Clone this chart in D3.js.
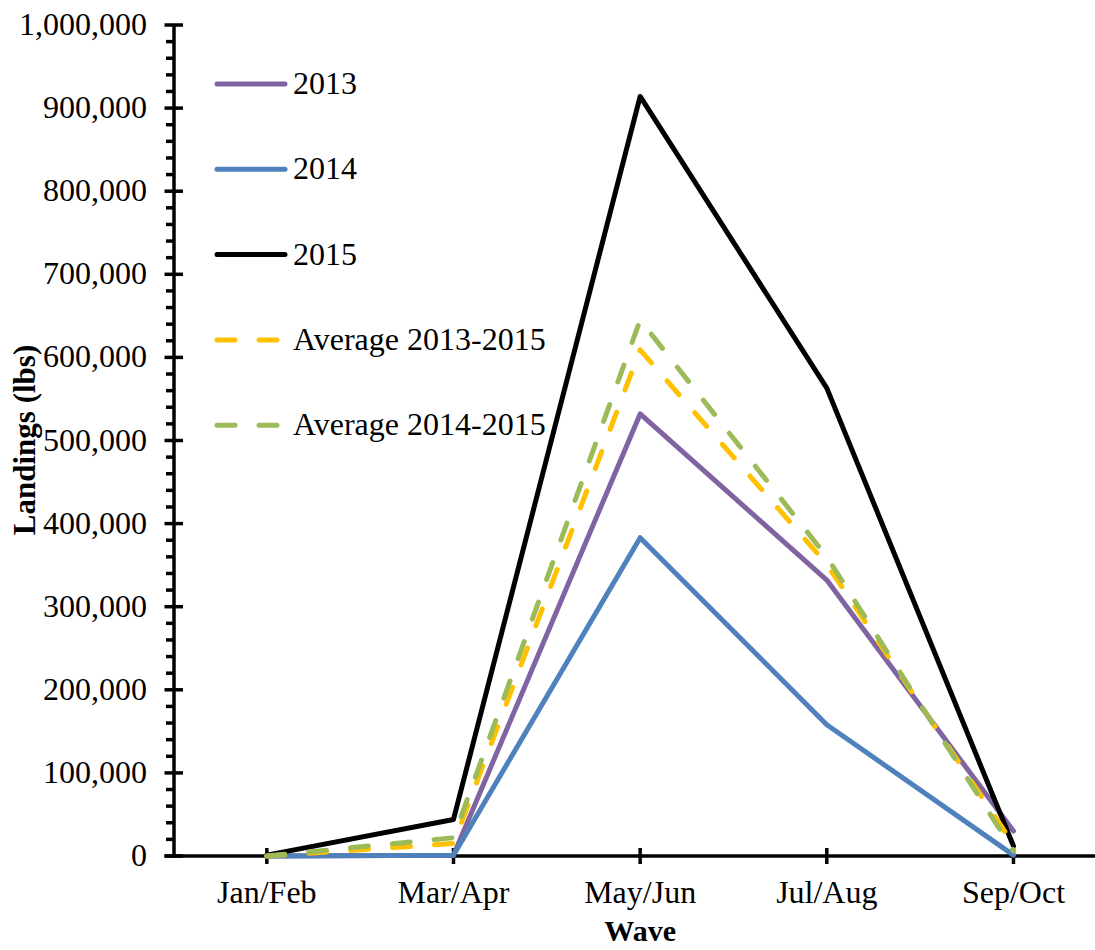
<!DOCTYPE html>
<html>
<head>
<meta charset="utf-8">
<script src="https://cdn.jsdelivr.net/npm/d3@7.9.0/dist/d3.min.js"></script>
<style>
  body { margin: 0; background: #fff; }
  svg { display: block; font-family: "Liberation Serif", "Times New Roman", serif; }
</style>
</head>
<body>
<svg id="chart" width="1095" height="950"></svg>
<script>
const waves = ["Jan/Feb", "Mar/Apr", "May/Jun", "Jul/Aug", "Sep/Oct"];

const landings2013 = [0, 1000, 532000, 332000, 30000];
const landings2014 = [0, 1000, 383000, 158000, 1000];
const landings2015 = [1000, 44000, 914000, 563000, 12000];
const avg2013to2015 = [0, 15000, 609000, 351000, 14000];
const avg2014to2015 = [0, 22000, 645000, 360000, 6000];

const seriesNames = ["2013", "2014", "2015", "Average 2013-2015", "Average 2014-2015"];
const seriesValues = [landings2013, landings2014, landings2015, avg2013to2015, avg2014to2015];
const seriesColors = ["#8064A2", "#4F81BD", "#000000", "#FFC000", "#9BBB59"];
const seriesDashed = [false, false, false, true, true];

const yTicks = d3.range(0, 1000001, 100000);

const svg = d3.select("#chart");

const x = d3.scalePoint()
    .domain(waves)
    .range([173.5, 1106.8])
    .padding(0.5);

const y = d3.scaleLinear()
    .domain([0, 1000000])
    .range([856, 25]);

// minor ticks on y axis
svg.append("g")
    .selectAll("line")
    .data(d3.range(0, 1000001, 20000).filter(v => v % 100000 !== 0))
    .join("line")
    .attr("x1", 166).attr("x2", 174)
    .attr("y1", d => y(d)).attr("y2", d => y(d))
    .attr("stroke", "#000").attr("stroke-width", 3.5);

// major y ticks
svg.append("g")
    .selectAll("line")
    .data(yTicks)
    .join("line")
    .attr("x1", 164.5).attr("x2", 183)
    .attr("y1", d => y(d)).attr("y2", d => y(d))
    .attr("stroke", "#000").attr("stroke-width", 3.5);

svg.append("g")
    .selectAll("text")
    .data(yTicks)
    .join("text")
    .attr("x", 147)
    .attr("y", d => y(d) + 10)
    .attr("text-anchor", "end")
    .attr("font-size", 32)
    .text(d => d3.format(",")(d));

// x ticks
svg.append("g")
    .selectAll("line")
    .data(waves)
    .join("line")
    .attr("x1", d => x(d)).attr("x2", d => x(d))
    .attr("y1", 848).attr("y2", 864)
    .attr("stroke", "#000").attr("stroke-width", 3.5);

svg.append("g")
    .selectAll("text")
    .data(waves)
    .join("text")
    .attr("x", d => x(d))
    .attr("y", 903)
    .attr("text-anchor", "middle")
    .attr("font-size", 32)
    .text(d => d);

// axis lines
svg.append("line")
    .attr("x1", 174).attr("x2", 174)
    .attr("y1", y(1000000)).attr("y2", y(0) + 1.75)
    .attr("stroke", "#000").attr("stroke-width", 3.5);
svg.append("line")
    .attr("x1", 164.5).attr("x2", 1095)
    .attr("y1", y(0)).attr("y2", y(0))
    .attr("stroke", "#000").attr("stroke-width", 3.5);

// series
const line = d3.line()
    .x((d, i) => x(waves[i]))
    .y(d => y(d));

seriesValues.forEach((vals, idx) => {
    svg.append("path")
        .attr("d", line(vals))
        .attr("fill", "none")
        .attr("stroke", seriesColors[idx])
        .attr("stroke-width", 5)
        .attr("stroke-linejoin", "round")
        .attr("stroke-linecap", "round")
        .attr("stroke-dasharray", seriesDashed[idx] ? "18,24" : null);
});

// legend
const legend = svg.append("g");
seriesNames.forEach((name, idx) => {
    const ly = 84 + idx * 85.3;
    legend.append("line")
        .attr("x1", 217).attr("x2", 285)
        .attr("y1", ly).attr("y2", ly)
        .attr("stroke", seriesColors[idx])
        .attr("stroke-width", 5)
        .attr("stroke-linecap", "round")
        .attr("stroke-dasharray", seriesDashed[idx] ? "18,24" : null);
    legend.append("text")
        .attr("x", 293)
        .attr("y", ly + 10)
        .attr("font-size", 32)
        .text(name);
});

// axis titles
svg.append("text")
    .attr("transform", "translate(35,440) rotate(-90)")
    .attr("text-anchor", "middle")
    .attr("font-size", 31)
    .attr("font-weight", "bold")
    .text("Landings (lbs)");

svg.append("text")
    .attr("x", x("May/Jun"))
    .attr("y", 941)
    .attr("text-anchor", "middle")
    .attr("font-size", 30)
    .attr("font-weight", "bold")
    .text("Wave");
</script>
</body>
</html>
